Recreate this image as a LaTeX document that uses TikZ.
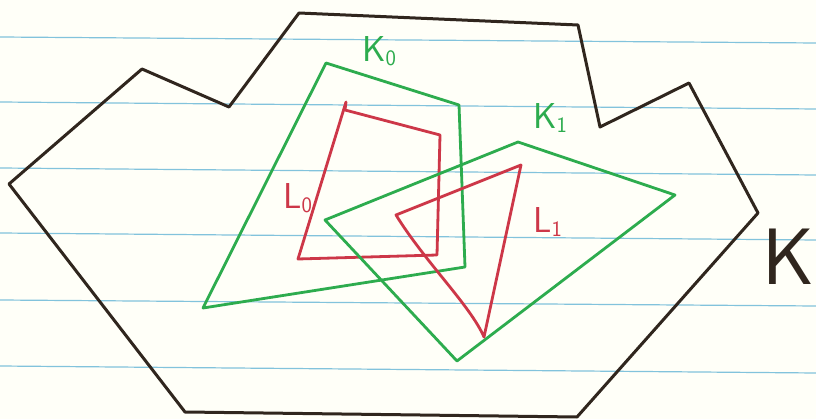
\documentclass[tikz,border=0pt]{standalone}
\usepackage{fontspec}
\definecolor{paper}{RGB}{255,255,248}
\definecolor{rulecol}{RGB}{130,195,220}
\definecolor{inkblack}{RGB}{48,38,30}
\definecolor{inkgreen}{RGB}{45,172,78}
\definecolor{inkred}{RGB}{205,55,72}
\newcommand\handlab[2]{\sffamily\fontsize{36}{36}\selectfont #1\raisebox{-0.12em}{\fontsize{22}{22}\selectfont #2}}
\begin{document}
\begin{tikzpicture}[x=1pt,y=-1pt,line join=round,line cap=round,
  rule/.style={rulecol,line width=1.2pt},
  outline/.style={inkblack,line width=3pt},
  gpoly/.style={inkgreen,line width=2.8pt},
  rpoly/.style={inkred,line width=2.8pt},
  lab/.style={inner sep=0pt,anchor=south west}]
\fill[paper] (0,0) rectangle (816,419);
\useasboundingbox (0,0) rectangle (816,419);
\foreach \a/\b in {37/43,102/109,168/175,233/240,300/306,366/373}
  \draw[rule] (0,\a) -- (816,\b);
% big outline K
\draw[outline] (9,184) -- (142,69) -- (229,107) -- (299,13) -- (578,25) -- (600,127)
  -- (689,83) -- (758,213) -- (577,417) -- (185,412) -- cycle;
% K0
\draw[gpoly] (326,63) -- (459,105) -- (465,267) -- (203,308) -- cycle;
% L0
\draw[rpoly] (346,102) -- (345,110) -- (440,135) -- (437,255) -- (298,259) -- cycle;
% K1
\draw[gpoly] (518,142) -- (675,195) -- (457,361) -- (325,220) -- cycle;
% L1
\draw[rpoly] (396,215) -- (521,165) -- (484,337) .. controls (470,305) and (425,262) .. (396,215) -- cycle;
% labels
\node[lab,text=inkgreen] (k0) at (362,66) {\handlab{K}{0}};
\node[lab,text=inkred] (l0) at (283,213) {\handlab{L}{0}};
\node[lab,text=inkgreen] (k1) at (533,133) {\handlab{K}{1}};
\node[lab,text=inkred] (l1) at (533,237) {\handlab{L}{1}};
\node[lab,text=inkblack] (kk) at (762,285) {\sffamily\fontsize{80}{80}\selectfont K};
\end{tikzpicture}
\end{document}
